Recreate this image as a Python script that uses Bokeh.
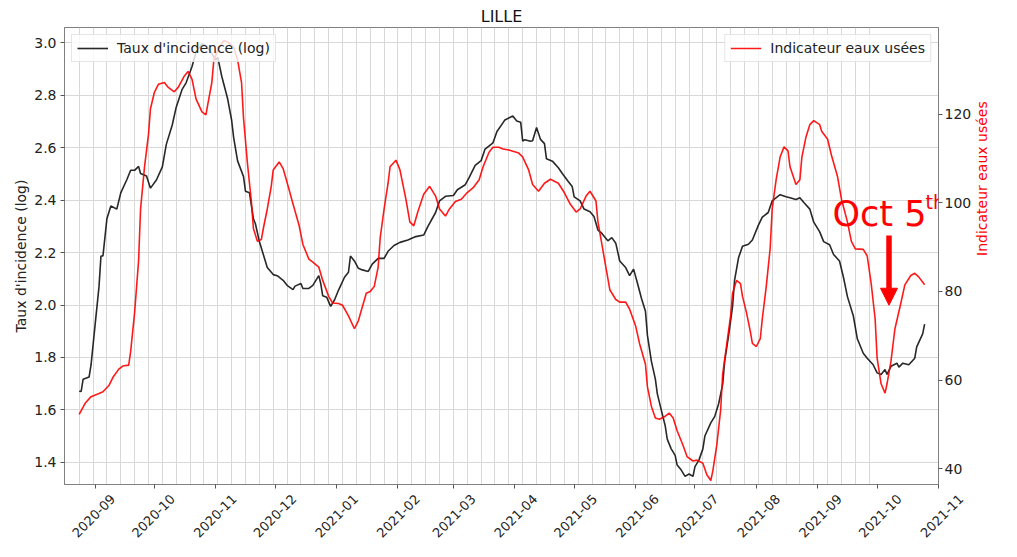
import math
import pandas as pd
from bokeh.plotting import figure
from bokeh.layouts import column
from bokeh.models import (Range1d, LinearAxis, FixedTicker, MonthsTicker, Legend, LegendItem,
                          Label, Arrow, NormalHead, ColumnDataSource, NumeralTickFormatter)
from bokeh.core.properties import value
from bokeh.embed import file_html
from bokeh.resources import INLINE

FONT = "DejaVu Sans"

# ---------------- data ----------------
incid_dates = [
    "2020-08-24", "2020-08-25", "2020-08-26", "2020-08-29", "2020-08-30", "2020-09-01", "2020-09-03",
    "2020-09-04", "2020-09-05", "2020-09-07", "2020-09-09", "2020-09-12", "2020-09-14", "2020-09-17",
    "2020-09-19", "2020-09-21", "2020-09-23", "2020-09-24", "2020-09-27", "2020-09-29", "2020-10-02",
    "2020-10-05", "2020-10-07", "2020-10-10", "2020-10-12", "2020-10-15", "2020-10-17", "2020-10-20",
    "2020-10-22", "2020-10-25", "2020-10-27", "2020-10-29", "2020-11-01", "2020-11-02", "2020-11-04",
    "2020-11-07", "2020-11-09", "2020-11-10", "2020-11-12", "2020-11-15", "2020-11-16", "2020-11-18",
    "2020-11-20", "2020-11-21", "2020-11-23", "2020-11-25", "2020-11-27", "2020-11-30", "2020-12-02",
    "2020-12-05", "2020-12-07", "2020-12-10", "2020-12-11", "2020-12-14", "2020-12-15", "2020-12-18",
    "2020-12-20", "2020-12-23", "2020-12-24", "2020-12-25", "2020-12-27", "2020-12-29", "2020-12-31",
    "2021-01-02", "2021-01-05", "2021-01-07", "2021-01-08", "2021-01-10", "2021-01-12", "2021-01-14",
    "2021-01-17", "2021-01-19", "2021-01-22", "2021-01-25", "2021-01-27", "2021-01-30", "2021-02-02",
    "2021-02-06", "2021-02-10", "2021-02-14", "2021-02-16", "2021-02-20", "2021-02-22", "2021-02-25",
    "2021-03-01", "2021-03-03", "2021-03-07", "2021-03-09", "2021-03-12", "2021-03-15", "2021-03-17",
    "2021-03-21", "2021-03-23", "2021-03-26", "2021-03-27", "2021-03-31", "2021-04-02", "2021-04-04",
    "2021-04-05", "2021-04-06", "2021-04-09", "2021-04-10", "2021-04-12", "2021-04-14", "2021-04-16",
    "2021-04-17", "2021-04-20", "2021-04-23", "2021-04-25", "2021-04-28", "2021-04-30", "2021-05-01",
    "2021-05-04", "2021-05-06", "2021-05-09", "2021-05-11", "2021-05-13", "2021-05-15", "2021-05-18",
    "2021-05-20", "2021-05-22", "2021-05-24", "2021-05-27", "2021-05-29", "2021-05-31", "2021-06-02",
    "2021-06-04", "2021-06-06", "2021-06-07", "2021-06-09", "2021-06-11", "2021-06-12", "2021-06-14",
    "2021-06-16", "2021-06-17", "2021-06-19", "2021-06-21", "2021-06-22", "2021-06-24", "2021-06-26",
    "2021-06-28", "2021-06-30", "2021-07-01", "2021-07-03", "2021-07-05", "2021-07-06", "2021-07-09",
    "2021-07-11", "2021-07-13", "2021-07-15", "2021-07-16", "2021-07-18", "2021-07-20", "2021-07-21",
    "2021-07-23", "2021-07-25", "2021-07-28", "2021-07-30", "2021-08-02", "2021-08-04", "2021-08-07",
    "2021-08-09", "2021-08-13", "2021-08-16", "2021-08-18", "2021-08-21", "2021-08-23", "2021-08-25",
    "2021-08-28", "2021-08-30", "2021-09-02", "2021-09-04", "2021-09-07", "2021-09-09", "2021-09-12",
    "2021-09-14", "2021-09-16", "2021-09-19", "2021-09-21", "2021-09-24", "2021-09-26", "2021-09-29",
    "2021-10-01", "2021-10-03", "2021-10-05", "2021-10-06", "2021-10-08", "2021-10-11", "2021-10-12",
    "2021-10-14", "2021-10-17", "2021-10-20", "2021-10-21", "2021-10-24", "2021-10-25",
]
incid_values = [
    1.671, 1.670, 1.717, 1.725, 1.772, 1.921, 2.069,
    2.187, 2.187, 2.329, 2.378, 2.366, 2.428, 2.477,
    2.514, 2.514, 2.529, 2.502, 2.492, 2.446, 2.477,
    2.527, 2.613, 2.687, 2.755, 2.823, 2.848, 2.910,
    2.965, 2.996, 2.990, 2.970, 2.936, 2.945, 2.873,
    2.786, 2.705, 2.640, 2.550, 2.490, 2.434, 2.428,
    2.329, 2.310, 2.242, 2.193, 2.143, 2.116, 2.112,
    2.094, 2.075, 2.059, 2.072, 2.082, 2.063, 2.063,
    2.075, 2.112, 2.082, 2.035, 2.030, 1.995, 2.020,
    2.057, 2.106, 2.125, 2.187, 2.168, 2.140, 2.134,
    2.128, 2.156, 2.178, 2.178, 2.205, 2.227, 2.239,
    2.248, 2.261, 2.267, 2.298, 2.353, 2.397, 2.415,
    2.418, 2.440, 2.459, 2.487, 2.533, 2.551, 2.595,
    2.619, 2.662, 2.695, 2.706, 2.721, 2.702, 2.697,
    2.625, 2.631, 2.625, 2.627, 2.677, 2.632, 2.616,
    2.558, 2.549, 2.524, 2.502, 2.471, 2.452, 2.413,
    2.397, 2.366, 2.356, 2.338, 2.286, 2.273, 2.245,
    2.257, 2.236, 2.168, 2.143, 2.112, 2.137, 2.082,
    2.025, 1.976, 1.884, 1.785, 1.717, 1.661, 1.599,
    1.538, 1.488, 1.451, 1.426, 1.389, 1.371, 1.346,
    1.355, 1.346, 1.383, 1.408, 1.451, 1.500, 1.550,
    1.575, 1.624, 1.698, 1.785, 1.884, 1.995, 2.094,
    2.180, 2.224, 2.232, 2.248, 2.304, 2.335, 2.353,
    2.397, 2.421, 2.413, 2.409, 2.403, 2.409, 2.391,
    2.366, 2.316, 2.279, 2.242, 2.230, 2.193, 2.168,
    2.106, 2.032, 1.958, 1.871, 1.816, 1.797, 1.772,
    1.741, 1.735, 1.754, 1.735, 1.766, 1.778, 1.763,
    1.778, 1.772, 1.797, 1.840, 1.890, 1.927,
]

ww_dates = [
    "2020-08-24", "2020-08-27", "2020-08-30", "2020-09-03", "2020-09-05", "2020-09-08", "2020-09-10",
    "2020-09-13", "2020-09-15", "2020-09-18", "2020-09-19", "2020-09-21", "2020-09-23", "2020-09-24",
    "2020-09-26", "2020-09-28", "2020-09-29", "2020-10-01", "2020-10-03", "2020-10-06", "2020-10-08",
    "2020-10-11", "2020-10-13", "2020-10-16", "2020-10-18", "2020-10-20", "2020-10-22", "2020-10-25",
    "2020-10-27", "2020-10-28", "2020-10-30", "2020-10-31", "2020-11-02", "2020-11-05", "2020-11-07",
    "2020-11-10", "2020-11-12", "2020-11-14", "2020-11-15", "2020-11-17", "2020-11-19", "2020-11-20",
    "2020-11-22", "2020-11-24", "2020-11-25", "2020-11-27", "2020-11-29", "2020-11-30", "2020-12-03",
    "2020-12-05", "2020-12-08", "2020-12-10", "2020-12-13", "2020-12-15", "2020-12-18", "2020-12-20",
    "2020-12-23", "2020-12-25", "2020-12-28", "2020-12-30", "2021-01-02", "2021-01-04", "2021-01-07",
    "2021-01-10", "2021-01-12", "2021-01-13", "2021-01-16", "2021-01-18", "2021-01-20", "2021-01-22",
    "2021-01-23", "2021-01-25", "2021-01-27", "2021-01-28", "2021-01-31", "2021-02-02", "2021-02-05",
    "2021-02-07", "2021-02-09", "2021-02-11", "2021-02-14", "2021-02-17", "2021-02-20", "2021-02-22",
    "2021-02-25", "2021-02-27", "2021-03-02", "2021-03-05", "2021-03-08", "2021-03-11", "2021-03-14",
    "2021-03-16", "2021-03-19", "2021-03-21", "2021-03-24", "2021-03-26", "2021-03-29", "2021-04-03",
    "2021-04-05", "2021-04-08", "2021-04-10", "2021-04-13", "2021-04-16", "2021-04-19", "2021-04-23",
    "2021-04-26", "2021-04-29", "2021-05-02", "2021-05-04", "2021-05-07", "2021-05-09", "2021-05-12",
    "2021-05-13", "2021-05-15", "2021-05-17", "2021-05-19", "2021-05-22", "2021-05-24", "2021-05-27",
    "2021-05-29", "2021-06-01", "2021-06-03", "2021-06-06", "2021-06-07", "2021-06-09", "2021-06-11",
    "2021-06-13", "2021-06-16", "2021-06-18", "2021-06-20", "2021-06-22", "2021-06-25", "2021-06-27",
    "2021-06-30", "2021-07-02", "2021-07-05", "2021-07-07", "2021-07-09", "2021-07-10", "2021-07-12",
    "2021-07-14", "2021-07-15", "2021-07-17", "2021-07-19", "2021-07-20", "2021-07-22", "2021-07-24",
    "2021-07-25", "2021-07-27", "2021-07-29", "2021-07-30", "2021-08-01", "2021-08-03", "2021-08-04",
    "2021-08-06", "2021-08-08", "2021-08-09", "2021-08-11", "2021-08-13", "2021-08-15", "2021-08-17",
    "2021-08-18", "2021-08-21", "2021-08-23", "2021-08-24", "2021-08-26", "2021-08-28", "2021-08-30",
    "2021-09-02", "2021-09-03", "2021-09-06", "2021-09-08", "2021-09-11", "2021-09-13", "2021-09-16",
    "2021-09-18", "2021-09-20", "2021-09-24", "2021-09-26", "2021-09-28", "2021-09-30", "2021-10-01",
    "2021-10-03", "2021-10-05", "2021-10-06", "2021-10-08", "2021-10-10", "2021-10-13", "2021-10-15",
    "2021-10-18", "2021-10-20", "2021-10-22", "2021-10-25",
]
ww_values = [
    52.3, 54.8, 56.3, 57.0, 57.4, 58.8, 60.6,
    62.5, 63.2, 63.4, 66.5, 75.3, 86.9, 98.6,
    108.1, 115.4, 121.2, 124.9, 126.7, 127.1, 126.0,
    125.0, 126.0, 128.5, 129.6, 127.8, 123.4, 120.5,
    119.8, 122.3, 127.1, 132.2, 134.4, 136.6, 136.2,
    135.1, 132.2, 127.1, 119.1, 108.8, 100.1, 94.2,
    91.3, 91.7, 94.2, 98.6, 103.7, 107.4, 109.2,
    107.7, 103.0, 99.7, 95.0, 90.6, 87.3, 86.6,
    85.5, 82.5, 78.9, 77.4, 77.3, 76.9, 74.5,
    71.6, 73.4, 75.0, 79.6, 80.0, 81.1, 85.5,
    92.0, 98.6, 104.4, 108.1, 109.6, 107.4, 100.8,
    95.7, 94.8, 97.9, 101.9, 103.7, 101.5, 98.6,
    97.0, 98.6, 100.3, 100.8, 102.3, 103.4, 105.2,
    108.1, 111.4, 112.5, 112.5, 112.1, 111.9, 111.2,
    110.3, 107.4, 104.1, 102.6, 104.4, 105.3, 104.4,
    102.3, 99.7, 97.9, 98.6, 101.5, 102.6, 100.4,
    95.7, 90.6, 85.5, 80.4, 78.2, 77.6, 77.6,
    76.0, 72.3, 68.3, 63.6, 58.5, 54.1, 51.5,
    51.2, 51.9, 52.6, 51.5, 48.6, 45.3, 42.8,
    41.8, 42.0, 41.3, 38.7, 37.4, 39.5, 45.3,
    53.4, 61.4, 67.9, 74.5, 79.6, 82.5, 81.8,
    78.9, 75.3, 70.9, 68.3, 67.6, 69.4, 73.8,
    81.1, 89.8, 98.6, 105.2, 110.3, 112.6, 111.7,
    108.1, 104.1, 105.2, 110.3, 114.7, 117.6, 118.5,
    117.6, 116.1, 114.3, 110.6, 105.9, 100.8, 95.7,
    91.3, 89.6, 89.5, 88.0, 81.8, 73.8, 65.0,
    59.2, 57.1, 59.2, 64.3, 71.6, 77.4, 81.5,
    83.6, 84.1, 83.3, 81.5,
]

month_labels = ["2020-09", "2020-10", "2020-11", "2020-12", "2021-01", "2021-02", "2021-03",
                "2021-04", "2021-05", "2021-06", "2021-07", "2021-08", "2021-09", "2021-10", "2021-11"]
left_ticks = [1.4, 1.6, 1.8, 2.0, 2.2, 2.4, 2.6, 2.8, 3.0]
right_ticks = [40, 60, 80, 100, 120]

title_text = "LILLE"
label_incid = "Taux d'incidence (log)"
label_ww = "Indicateur eaux usées"
annot_text = "Oct 5"
annot_sup = "th"

# ---------------- layout constants ----------------
W = 1001
H_MAIN = 490
H_LAB = 51
BORDER_L, BORDER_R, BORDER_T, BORDER_B = 64, 58, 27, 6


def ms(ts):
    return pd.Timestamp(ts).value / 1e6


x_start = pd.Timestamp("2020-08-16 14:00")
x_end = pd.Timestamp("2021-11-01")

# ---------------- main figure ----------------
p = figure(width=W, height=H_MAIN, x_axis_type="datetime",
           x_range=Range1d(x_start, x_end), y_range=Range1d(1.315, 3.059),
           output_backend="svg", toolbar_location=None,
           min_border_left=BORDER_L, min_border_right=BORDER_R,
           min_border_top=BORDER_T, min_border_bottom=BORDER_B)
p.extra_y_ranges = {"ww": Range1d(36.5, 139.5)}

p.background_fill_color = "white"
p.border_fill_color = "white"
p.outline_line_color = "#808080"
p.outline_line_width = 1

p.title.text = title_text
p.title.align = "center"
p.title.text_font = FONT
p.title.text_font_size = "16px"
p.title.text_font_style = "normal"
p.title.text_color = "#111111"
p.title.standoff = 3

# grid
week_lines = pd.date_range("2020-08-24", "2021-09-27", freq="7D")
p.xgrid.ticker = FixedTicker(ticks=[t.value / 1e6 for t in week_lines])
p.xgrid.grid_line_color = "#d8d8d8"
p.ygrid.grid_line_color = "#d8d8d8"
p.xgrid.grid_line_width = 1
p.ygrid.grid_line_width = 1

# lines
src_i = ColumnDataSource(dict(x=pd.to_datetime(incid_dates), y=incid_values))
src_w = ColumnDataSource(dict(x=pd.to_datetime(ww_dates), y=ww_values))
r_i = p.line("x", "y", source=src_i, line_color="#111111", line_width=1.6, line_alpha=0.9)
r_w = p.line("x", "y", source=src_w, line_color="#ff0000", line_width=1.6, line_alpha=0.9,
             y_range_name="ww")

# axes
ax_l = p.yaxis[0]
ax_l.ticker = FixedTicker(ticks=left_ticks)
ax_l.formatter = NumeralTickFormatter(format="0.0")
ax_l.axis_label = label_incid
ax_l.axis_label_text_color = "#222222"

ax_r = LinearAxis(y_range_name="ww", ticker=FixedTicker(ticks=right_ticks), axis_label=label_ww)
ax_r.axis_label_text_color = "#ff0000"
p.add_layout(ax_r, "right")
if "axis_label_orientation" in LinearAxis.properties():
    ax_r.axis_label_orientation = math.pi / 2

ax_b = p.xaxis[0]
ax_b.ticker = MonthsTicker(months=list(range(12)))
ax_b.major_label_text_color = None
ax_b.major_label_text_font_size = "1px"
ax_b.major_label_standoff = 0

for ax in (ax_l, ax_r, ax_b):
    ax.major_tick_out = 4
    ax.major_tick_in = 0
    ax.minor_tick_line_color = None
    ax.axis_line_color = "#808080"
    ax.major_tick_line_color = "#555555"
    ax.axis_label_text_font = FONT
    ax.axis_label_text_font_size = "14px"
    ax.axis_label_text_font_style = "normal"
for ax in (ax_l, ax_r):
    ax.major_label_text_font = FONT
    ax.major_label_text_font_size = "14px"
    ax.major_label_text_color = "#222222"
ax_l.major_label_standoff = 4
ax_r.major_label_standoff = 2
ax_l.axis_label_standoff = 2
ax_r.axis_label_standoff = 8

# legends
for item, loc in ((LegendItem(label=label_incid, renderers=[r_i]), "top_left"),
                  (LegendItem(label=label_ww, renderers=[r_w]), "top_right")):
    lg = Legend(items=[item], location=loc)
    lg.label_text_font = FONT
    lg.label_text_font_size = "14px"
    lg.label_text_color = "#222222"
    lg.glyph_width = 31
    lg.glyph_height = 14
    lg.label_height = 14
    lg.label_standoff = 9
    lg.padding = 5
    lg.margin = 7
    lg.spacing = 0
    lg.border_line_color = "#cccccc"
    lg.background_fill_color = "white"
    lg.background_fill_alpha = 0.8
    p.add_layout(lg)

# annotation
annot_x = ms("2021-09-08 12:00")
p.add_layout(Label(x=annot_x, y=97.4, y_range_name="ww", text=annot_text, text_font=FONT,
                   text_font_size="35px", text_color="#ff0000", text_baseline="alphabetic",
                   text_align="left"))
p.add_layout(Label(x=annot_x, y=97.4, y_range_name="ww", x_offset=93, y_offset=12, text=annot_sup,
                   text_font=FONT, text_font_size="19px", text_color="#ff0000",
                   text_baseline="alphabetic", text_align="left"))
arrow_x = ms("2021-10-07")
p.add_layout(Arrow(end=NormalHead(size=17, fill_color="#ff0000", line_color="#ff0000", line_width=1),
                   x_start=arrow_x, y_start=92.6, x_end=arrow_x, y_end=76.9,
                   line_color="#ff0000", line_width=5.5, y_range_name="ww"))

# ---------------- strip of rotated date labels under the main plot ----------------
q = figure(width=W, height=H_LAB, x_axis_type="datetime", y_range=Range1d(0, H_LAB),
           output_backend="svg", toolbar_location=None,
           min_border=0, min_border_left=0, min_border_right=0,
           min_border_top=0, min_border_bottom=0,
           x_axis_location=None, y_axis_location=None)
if "frame_align" in q.properties():
    # independent frame: spans the whole strip, same date-per-pixel scale as the main frame
    p.frame_align = False
    q.frame_align = False
    frame_w = W - BORDER_L - BORDER_R
    per_px = (x_end - x_start) / frame_w
    q.x_range = Range1d(x_start - per_px * BORDER_L, x_end + per_px * BORDER_R)
else:
    q.x_range = p.x_range
q.grid.visible = False
q.outline_line_color = None
q.background_fill_color = "white"
q.border_fill_color = "white"
lab_src = ColumnDataSource(dict(x=pd.to_datetime(month_labels), text=month_labels,
                                y=[H_LAB / 2] * len(month_labels)))
q.text(x="x", y="y", text="text", source=lab_src, angle=math.pi / 4,
       text_align="center", text_baseline="middle", x_offset=-1.5,
       text_font=value(FONT), text_font_size=value("13px"), text_color="#222222")

layout = column(p, q, spacing=0)

with open("out.html", "w", encoding="utf-8") as f:
    f.write(file_html(layout, INLINE))
